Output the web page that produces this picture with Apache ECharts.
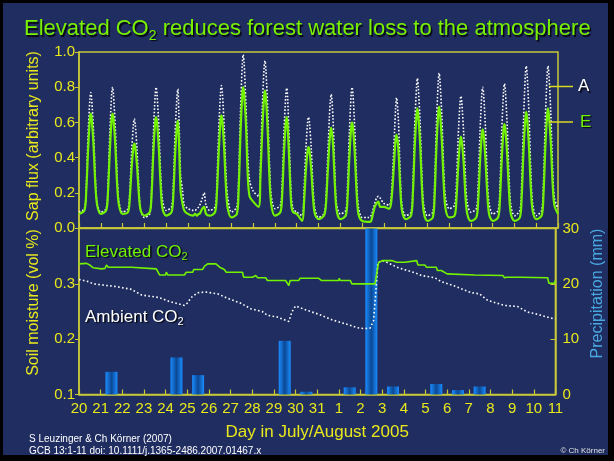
<!DOCTYPE html>
<html><head><meta charset="utf-8">
<script src="https://cdn.jsdelivr.net/npm/echarts@6/dist/echarts.min.js"></script>
<style>html,body{margin:0;padding:0;background:#000;}#c{width:614px;height:461px;}</style>
</head><body><div id="c"></div>
<script>
// Day tick labels (July 20 ... August 11)
const dayLabels = ['20','21','22','23','24','25','26','27','28','29','30','31','1','2','3','4','5','6','7','8','9','10','11'];
// Hours of each day at which sap flux was read
const hours = [0, 6, 8, 10, 12, 13, 14, 16, 18, 20];
// Sap flux, ambient trees (A), one row per day
const sapA = [
  [.09,.11,.24,.53,.73,.77,.73,.55,.29,.14],
  [.09,.11,.25,.54,.76,.80,.76,.57,.30,.15],
  [.09,.11,.21,.43,.59,.62,.59,.44,.23,.10],
  [.06,.08,.22,.53,.76,.80,.76,.58,.31,.16],
  [.10,.12,.25,.54,.75,.79,.66,.30,.22,.13],
  [.11,.10,.10,.11,.12,.13,.14,.17,.20,.13],
  [.10,.12,.26,.55,.77,.81,.77,.58,.31,.17],
  [.09,.12,.29,.66,.93,.985,.94,.70,.42,.27],
  [.21,.18,.37,.68,.91,.95,.90,.68,.36,.18],
  [.11,.13,.26,.55,.76,.795,.74,.45,.18,.11],
  [.09,.07,.21,.44,.60,.63,.60,.45,.23,.11],
  [.06,.08,.15,.38,.63,.72,.76,.62,.32,.13],
  [.08,.10,.24,.54,.76,.80,.76,.56,.28,.12],
  [.06,.06,.06,.07,.10,.12,.14,.17,.18,.17],
  [.14,.13,.17,.34,.57,.68,.74,.62,.32,.13],
  [.07,.09,.24,.57,.80,.85,.80,.60,.30,.13],
  [.07,.09,.25,.59,.83,.88,.83,.63,.34,.17],
  [.11,.13,.25,.52,.71,.75,.71,.54,.29,.14],
  [.09,.11,.25,.54,.76,.80,.76,.57,.30,.14],
  [.08,.10,.24,.55,.78,.82,.78,.58,.30,.13],
  [.07,.10,.26,.61,.87,.92,.87,.65,.33,.14],
  [.07,.10,.26,.61,.87,.92,.87,.66,.35,.17]
];
const sapAEnd = 0.11;
// Sap flux, elevated CO2 trees (E)
const sapE = [
  [.08,.10,.21,.44,.62,.65,.62,.47,.25,.13],
  [.08,.10,.21,.44,.62,.65,.62,.47,.25,.13],
  [.08,.09,.17,.34,.46,.48,.46,.35,.19,.10],
  [.07,.09,.19,.43,.60,.63,.60,.45,.24,.11],
  [.07,.09,.19,.42,.58,.61,.52,.21,.14,.10],
  [.08,.07,.08,.07,.08,.08,.09,.11,.12,.08],
  [.07,.09,.20,.43,.61,.64,.61,.45,.23,.11],
  [.06,.08,.22,.53,.76,.80,.76,.59,.30,.18],
  [.15,.12,.29,.55,.74,.78,.74,.55,.28,.13],
  [.07,.09,.19,.43,.60,.63,.58,.35,.13,.09],
  [.08,.04,.14,.32,.44,.46,.44,.33,.17,.08],
  [.05,.07,.12,.30,.48,.54,.57,.47,.25,.10],
  [.05,.07,.17,.40,.57,.60,.57,.42,.20,.08],
  [.04,.035,.035,.04,.08,.10,.12,.14,.15,.12],
  [.12,.11,.14,.26,.43,.50,.53,.45,.24,.10],
  [.05,.07,.19,.45,.64,.68,.64,.48,.23,.09],
  [.04,.06,.18,.46,.65,.69,.65,.49,.25,.11],
  [.06,.07,.16,.35,.49,.52,.49,.37,.18,.08],
  [.04,.06,.15,.37,.53,.56,.53,.39,.20,.08],
  [.04,.06,.16,.39,.56,.59,.56,.41,.21,.08],
  [.04,.06,.18,.44,.62,.66,.62,.46,.23,.10],
  [.05,.07,.19,.45,.64,.68,.64,.49,.26,.13]
];
const sapEEnd = 0.08;
// Daily precipitation (mm)
const precipMM = [0,4.1,0,0,6.7,3.5,0,0,0,9.7,0.5,0,1.3,32,1.45,0,1.9,0.8,1.45,0,0,0];
// Soil moisture [day, vol fraction]
const soilE = [[0,.336],[0.35,.337],[0.43,.340],[0.5,.334],[0.66,.329],[1.04,.327],[1.2,.328],[1.27,.334],[1.35,.330],[2.42,.330],[2.5,.327],[3.57,.327],[3.72,.316],[4.0,.316],[4.03,.321],[4.1,.316],[4.87,.316],[4.95,.321],[5.25,.321],[5.3,.326],[5.71,.326],[5.8,.332],[5.94,.336],[6.32,.336],[6.5,.330],[6.71,.326],[6.8,.321],[7.55,.321],[7.6,.312],[8.01,.312],[8.16,.315],[8.25,.311],[8.62,.311],[8.7,.306],[9.54,.306],[9.69,.297],[9.75,.306],[10.15,.306],[10.2,.310],[11.07,.310],[11.15,.312],[11.2,.306],[11.99,.306],[12.02,.310],[12.06,.306],[12.53,.306],[12.6,.300],[13.67,.300],[13.83,.338],[14.0,.342],[14.44,.342],[14.52,.344],[14.67,.339],[15.05,.339],[15.1,.342],[15.59,.342],[15.65,.334],[15.97,.334],[16.0,.336],[16.05,.330],[16.5,.330],[16.55,.324],[16.73,.324],[16.8,.321],[17.0,.318],[17.04,.316],[18.27,.316],[18.3,.319],[18.35,.315],[19.57,.315],[19.65,.311],[19.75,.312],[20.41,.312],[20.5,.311],[21.64,.311],[21.7,.301],[21.95,.301],[22,.306]];
const soilA = [[0,.308],[0.43,.304],[0.66,.300],[1.27,.297],[1.73,.295],[2.42,.290],[2.88,.280],[3.72,.275],[4.18,.268],[4.87,.261],[5.02,.266],[5.17,.275],[5.48,.284],[5.86,.285],[6.40,.282],[6.86,.274],[7.47,.265],[7.93,.255],[8.46,.250],[8.70,.243],[9.16,.240],[9.69,.232],[9.84,.250],[10.0,.260],[10.53,.252],[11.07,.245],[11.68,.235],[12.45,.226],[12.83,.221],[13.14,.219],[13.44,.220],[13.6,.233],[13.71,.287],[13.80,.338],[13.98,.342],[14.21,.339],[14.75,.329],[15.51,.320],[15.82,.315],[16.43,.311],[16.73,.304],[17.35,.296],[18.11,.284],[18.49,.282],[18.88,.270],[19.64,.261],[20.25,.259],[20.71,.249],[21.17,.245],[21.79,.238],[22.0,.237]];

const FONT = "'Liberation Sans', Arial, sans-serif";
const YEL = '#e8e81c', AXC = '#c8c83a', GRN = '#72f200', BG = '#1f2d61';

function dailySeries(rows, endVal) {
  const out = [];
  rows.forEach((r, d) => r.forEach((v, k) => out.push([d + hours[k] / 24, v])));
  out.push([rows.length, endVal]);
  return out;
}
const precipData = precipMM.map((v, d) => [d + 0.5, v]);
const shadow = {textShadowColor:'rgba(0,0,0,0.85)', textShadowOffsetX:1.5, textShadowOffsetY:1.5, textShadowBlur:1};

const xBase = {type:'value', min:0, max:22, interval:1,
  axisLine:{show:true, lineStyle:{color:AXC, width:1.5}},
  axisTick:{show:true, inside:true, length:5, lineStyle:{color:AXC, width:1.2}},
  splitLine:{show:false}};

const chart = echarts.init(document.getElementById('c'), null, {renderer:'canvas'});
chart.setOption({
  animation:false,
  backgroundColor:'#000',
  textStyle:{fontFamily:FONT},
  title:{
    text:'{a|Elevated CO}{s|2}{a| reduces forest water loss to the atmosphere}',
    left:19, top:10,
    textStyle:{fontWeight:'normal', rich:{
      a:Object.assign({fontSize:22, fontWeight:'normal', color:'#78f000', fontFamily:FONT, lineHeight:28}, shadow),
      s:Object.assign({fontSize:14, fontWeight:'normal', color:'#78f000', fontFamily:FONT, lineHeight:12, verticalAlign:'bottom'}, shadow)
    }}
  },
  grid:[
    {left:79, right:56, top:52, height:176, show:true, borderColor:AXC, borderWidth:1.5},
    {left:79, right:56, top:228.5, height:166, show:true, borderColor:AXC, borderWidth:1.5}
  ],
  xAxis:[
    Object.assign({}, xBase, {gridIndex:0, axisLabel:{show:false}}),
    Object.assign({}, xBase, {gridIndex:1,
      axisLabel:{show:true, color:YEL, fontSize:15, fontFamily:FONT, margin:7,
        formatter:v => dayLabels[Math.round(v)] ?? ''},
      name:'Day in July/August 2005', nameLocation:'middle', nameGap:29,
      nameTextStyle:{color:YEL, fontSize:17, fontFamily:FONT}})
  ],
  yAxis:[
    {gridIndex:0, type:'value', min:0, max:1, interval:0.2,
      axisLine:{show:true, lineStyle:{color:AXC, width:1.5}},
      axisTick:{show:true, length:4, lineStyle:{color:AXC}},
      splitLine:{show:false},
      axisLabel:{color:YEL, fontSize:15, fontFamily:FONT, margin:4, formatter:v => v.toFixed(1)},
      name:'Sap flux (arbitrary units)', nameLocation:'middle', nameGap:37, nameRotate:90,
      nameTextStyle:{color:YEL, fontSize:16, fontFamily:FONT, padding:[0,0,0,8]}},
    {gridIndex:1, type:'value', min:0.1, max:0.4, interval:0.1,
      axisLine:{show:true, lineStyle:{color:AXC, width:1.5}},
      axisTick:{show:true, length:4, lineStyle:{color:AXC}},
      splitLine:{show:false},
      axisLabel:{color:YEL, fontSize:15, fontFamily:FONT, margin:4, showMaxLabel:false, formatter:v => v.toFixed(1)},
      name:'Soil moisture (vol %)', nameLocation:'middle', nameGap:37, nameRotate:90,
      nameTextStyle:{color:YEL, fontSize:16, fontFamily:FONT, padding:[0,0,0,18]}},
    {gridIndex:1, type:'value', position:'right', min:0, max:30, interval:10,
      axisLine:{show:true, lineStyle:{color:AXC, width:1.5}},
      axisTick:{show:true, inside:true, length:5, lineStyle:{color:AXC}},
      splitLine:{show:false},
      axisLabel:{color:YEL, fontSize:15, fontFamily:FONT, margin:7},
      name:'Precipitation (mm)', nameLocation:'middle', nameGap:27, nameRotate:90,
      nameTextStyle:{color:'#4aa8e0', fontSize:16, fontFamily:FONT, padding:[0,0,0,36]}}
  ],
  series:[
    {name:'Precipitation', type:'bar', xAxisIndex:1, yAxisIndex:2, data:precipData, barWidth:12, z:1,
      itemStyle:{color:{type:'linear', x:0, y:0, x2:1, y2:0, colorStops:[
        {offset:0, color:'#1a8dff'}, {offset:0.5, color:'#0c4894'}, {offset:1, color:'#1a8dff'}]}}},
    {name:'A', type:'line', xAxisIndex:0, yAxisIndex:0, data:dailySeries(sapA, sapAEnd),
      showSymbol:false, smooth:0.3, z:3,
      lineStyle:{color:'#ffffff', width:1.6, type:[1.6,1.8]}},
    {name:'E', type:'line', xAxisIndex:0, yAxisIndex:0, data:dailySeries(sapE, sapEEnd),
      showSymbol:false, smooth:0.3, z:4,
      lineStyle:{color:GRN, width:2.2}},
    {name:'Ambient CO2', type:'line', xAxisIndex:1, yAxisIndex:1, data:soilA,
      showSymbol:false, z:3, lineStyle:{color:'#ffffff', width:1.6, type:[1.6,2.4]}},
    {name:'Elevated CO2', type:'line', xAxisIndex:1, yAxisIndex:1, data:soilE,
      showSymbol:false, z:4, lineStyle:{color:GRN, width:1.6}}
  ],
  graphic:[
    {type:'rect', z:-100, silent:true, shape:{x:3, y:3, width:605, height:452}, style:{fill:BG}},
    {type:'line', z:10, shape:{x1:549, y1:86.5, x2:573, y2:86.5}, style:{stroke:'#d8d820', lineWidth:1.5}},
    {type:'line', z:10, shape:{x1:549, y1:122, x2:573, y2:122}, style:{stroke:'#d8d820', lineWidth:1.5}},
    {type:'text', z:10, x:578, y:86.5, style:{text:'{w|A}', verticalAlign:'middle',
      rich:{w:Object.assign({fontSize:17, fill:'#ffffff', fontFamily:FONT}, shadow)}}},
    {type:'text', z:10, x:580, y:122, style:{text:'{g|E}', verticalAlign:'middle',
      rich:{g:Object.assign({fontSize:17, fill:GRN, fontFamily:FONT}, shadow)}}},
    {type:'text', z:10, x:85, y:252, style:{text:'{a|Elevated CO}{s|2}', verticalAlign:'middle',
      rich:{a:Object.assign({fontSize:17, fill:GRN, fontFamily:FONT, lineHeight:20}, shadow),
            s:Object.assign({fontSize:11, fill:GRN, fontFamily:FONT, lineHeight:9, verticalAlign:'bottom'}, shadow)}}},
    {type:'text', z:10, x:85, y:317, style:{text:'{a|Ambient CO}{s|2}', verticalAlign:'middle',
      rich:{a:Object.assign({fontSize:17, fill:'#ffffff', fontFamily:FONT, lineHeight:20}, shadow),
            s:Object.assign({fontSize:11, fill:'#ffffff', fontFamily:FONT, lineHeight:9, verticalAlign:'bottom'}, shadow)}}},
    {type:'text', z:10, x:29, y:439.5, style:{text:'S Leuzinger & Ch Körner (2007)', fill:'#ffffff', font:'10px ' + FONT, verticalAlign:'middle'}},
    {type:'text', z:10, x:29, y:451.5, style:{text:'GCB 13:1-11 doi: 10.1111/j.1365-2486.2007.01467.x', fill:'#ffffff', font:'10px ' + FONT, verticalAlign:'middle'}},
    {type:'text', z:10, x:605, y:451, style:{text:'© Ch Körner', fill:'#e0e0e0', font:'8px ' + FONT, align:'right', verticalAlign:'middle'}}
  ]
});
</script></body></html>
